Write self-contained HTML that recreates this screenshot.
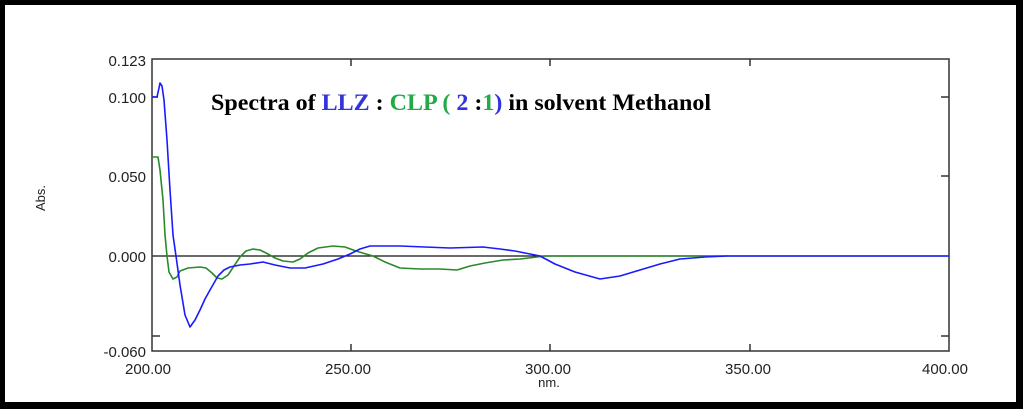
<!DOCTYPE html>
<html><head><meta charset="utf-8"><style>
html,body{margin:0;padding:0;background:#000;}
svg{display:block;}
</style></head><body>
<svg width="1023" height="409" xmlns="http://www.w3.org/2000/svg">
<rect x="0" y="0" width="1023" height="409" fill="#000"/>
<rect x="5" y="5" width="1011" height="397" fill="#fff"/>
<g font-family="Liberation Sans, sans-serif" font-size="15" fill="#222">
<text x="146" y="66" text-anchor="end">0.123</text>
<text x="146" y="103" text-anchor="end">0.100</text>
<text x="146" y="182" text-anchor="end">0.050</text>
<text x="146" y="262" text-anchor="end">0.000</text>
<text x="146" y="357" text-anchor="end">-0.060</text>
<text x="148" y="374" text-anchor="middle">200.00</text>
<text x="348" y="374" text-anchor="middle">250.00</text>
<text x="548" y="374" text-anchor="middle">300.00</text>
<text x="748" y="374" text-anchor="middle">350.00</text>
<text x="945" y="374" text-anchor="middle">400.00</text>
<text x="549" y="387" text-anchor="middle" font-size="13">nm.</text>
<text transform="translate(45,198) rotate(-90)" text-anchor="middle" font-size="13">Abs.</text>
</g>
<line x1="152" y1="256" x2="949" y2="256" stroke="#111" stroke-width="1.3"/>
<rect x="152" y="59" width="797" height="292" fill="none" stroke="#333" stroke-width="1.5"/>
<g stroke="#333" stroke-width="1.5">
<line x1="152" y1="97" x2="158" y2="97"/><line x1="152" y1="336" x2="160" y2="336"/>
<line x1="949" y1="97" x2="941" y2="97"/><line x1="949" y1="176" x2="941" y2="176"/><line x1="949" y1="336" x2="941" y2="336"/>
<line x1="351" y1="59" x2="351" y2="66"/><line x1="550" y1="59" x2="550" y2="66"/><line x1="750" y1="59" x2="750" y2="66"/>
<line x1="351" y1="351" x2="351" y2="344"/><line x1="550" y1="351" x2="550" y2="344"/><line x1="750" y1="351" x2="750" y2="344"/>
</g>
<polyline fill="none" stroke="#2a8a2a" stroke-width="1.6" stroke-linejoin="round" points="152,157 158,157 160,170 163,200 165,235 167,256 169,272 173,279 177,277 180,271 188,268 200,267 206,268 212,273 217,278 222,279 228,275 234,266 240,257 246,251 253,249 260,250 268,254 275,258 283,261 293,262 300,259 308,253 318,248 333,246 345,247 356,251 366,254 373,256 385,262 400,268 420,269 440,269 457,270 470,266 485,263 503,260 520,259 537,257 545,256 727,256"/>
<polyline fill="none" stroke="#1a1aff" stroke-width="1.6" stroke-linejoin="round" points="152,97 157,97 159,88 160,83 162,86 164,100 167,140 170,190 173,235 176,256 180,285 185,315 190,327 195,320 200,310 205,299 210,290 218,276 224,270 230,267 240,265 250,264 263,262 275,265 290,268 305,268 323,264 338,259 350,254 360,249 370,246 385,246 400,246 425,247 450,248 483,247 500,249 515,251 530,254 540,256 555,264 575,272 600,279 620,276 640,270 660,264 680,259 705,257 727,256 949,256"/>
<text x="211" y="110" textLength="500" lengthAdjust="spacingAndGlyphs" font-family="Liberation Serif, serif" font-weight="bold" font-size="23" fill="#000">Spectra of <tspan fill="#3333dd">LLZ</tspan> : <tspan fill="#22aa44">CLP</tspan> <tspan fill="#22aa44">(</tspan> <tspan fill="#3333dd">2</tspan> :<tspan fill="#22aa44">1</tspan><tspan fill="#3333dd">)</tspan> in solvent Methanol</text>
</svg>
</body></html>
